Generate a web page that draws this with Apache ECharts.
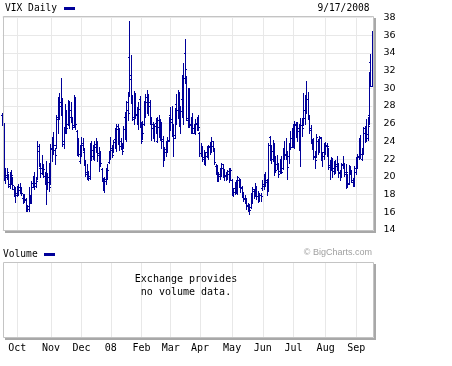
<!DOCTYPE html>
<html><head><meta charset="utf-8">
<script src="https://cdn.jsdelivr.net/npm/echarts@6/dist/echarts.min.js"></script>
<style>html,body{margin:0;padding:0;background:#fff}#c{width:452px;height:366px}</style>
</head><body><div id="c"></div>
<script>
// trading days, one list per month
const months = ['2007-09','2007-10','2007-11','2007-12','2008-01','2008-02','2008-03','2008-04','2008-05','2008-06','2008-07','2008-08','2008-09'];
const monthDays = [
  [17,18,19,20,21,24,25,26,27,28],
  [1,2,3,4,5,8,9,10,11,12,15,16,17,18,19,22,23,24,25,26,29,30,31],
  [1,2,5,6,7,8,9,12,13,14,15,16,19,20,21,23,26,27,28,29,30],
  [3,4,5,6,7,10,11,12,13,14,17,18,19,20,21,24,26,27,28,31],
  [2,3,4,7,8,9,10,11,14,15,16,17,18,22,23,24,25,28,29,30,31],
  [1,4,5,6,7,8,11,12,13,14,15,19,20,21,22,25,26,27,28,29],
  [3,4,5,6,7,10,11,12,13,14,17,18,19,20,24,25,26,27,28,31],
  [1,2,3,4,7,8,9,10,11,14,15,16,17,18,21,22,23,24,25,28,29,30],
  [1,2,5,6,7,8,9,12,13,14,15,16,19,20,21,22,23,27,28,29,30],
  [2,3,4,5,6,9,10,11,12,13,16,17,18,19,20,23,24,25,26,27,30],
  [1,2,3,7,8,9,10,11,14,15,16,17,18,21,22,23,24,25,28,29,30,31],
  [1,4,5,6,7,8,11,12,13,14,15,18,19,20,21,22,25,26,27,28,29],
  [2,3,4,5,8,9,10,11,12,15,16,17]
];
const monthLabels = ['Oct','Nov','Dec','08','Feb','Mar','Apr','May','Jun','Jul','Aug','Sep'];
const yTicks = [14,16,18,20,22,24,26,28,30,32,34,36,38];

const openV = [
 27.0,26.0,20.0,20.2,19.8,19.2,20.3,19.6,18.6,18.6,
 18.2,18.6,18.8,18.6,17.6,17.8,17.4,16.3,16.4,17.8,17.4,19.3,19.4,19.3,20.0,23.5,21.0,21.0,20.6,20.1,19.5,19.0,19.4,
 19.5,23.1,24.1,23.0,23.6,26.8,27.8,28.0,28.5,23.7,25.5,27.0,26.0,27.3,27.5,26.2,25.8,28.5,25.2,23.2,21.8,
 22.9,23.6,22.8,21.6,20.5,20.3,20.1,23.2,23.0,22.4,23.4,24.0,22.5,22.5,20.9,19.6,19.0,19.8,20.5,21.7,
 22.6,23.0,23.0,24.3,23.4,25.7,25.0,24.0,23.3,23.4,26.8,24.5,27.5,33.5,31.5,28.5,26.5,29.0,27.0,26.2,28.8,
 25.6,24.5,26.0,27.8,29.0,28.3,28.4,26.0,25.5,24.8,26.1,24.0,26.4,24.5,26.1,24.3,22.4,23.1,23.3,24.2,
 27.0,26.5,25.5,24.7,28.2,27.5,28.5,25.8,28.8,27.1,34.0,31.0,26.4,29.7,26.0,25.7,25.5,25.4,26.0,25.9,
 25.0,22.7,23.2,22.2,21.5,22.8,22.3,23.5,23.0,24.0,23.0,21.2,20.3,19.8,20.3,20.7,21.0,20.3,20.1,20.1,20.7,20.2,
 19.6,18.0,18.7,19.0,18.4,19.6,19.6,18.7,18.2,17.5,17.4,16.7,16.4,16.6,17.5,18.4,18.2,18.7,17.8,17.9,17.9,
 18.7,19.0,19.8,19.6,18.6,24.5,23.0,22.0,23.5,21.3,21.5,21.0,20.7,21.3,21.0,22.6,22.6,22.0,22.4,23.6,24.4,
 24.5,23.5,25.8,25.3,25.5,23.5,25.8,26.3,26.6,29.0,28.8,26.5,25.3,24.0,24.1,22.2,22.3,24.1,23.4,24.4,22.0,22.8,
 22.8,23.6,23.2,21.3,21.6,21.8,21.0,20.7,21.5,21.2,20.4,20.2,21.5,21.3,20.6,20.0,19.3,20.9,20.4,19.4,19.2,
 21.0,22.0,22.2,24.0,22.0,22.8,25.0,25.7,24.8,27.0,33.0,30.3
];
const highV = [
 27.2,26.1,21.0,21.0,20.3,20.6,20.8,20.0,19.0,18.9,
 19.0,19.2,19.3,18.9,18.1,18.1,17.6,16.8,18.9,18.0,19.5,20.1,20.5,20.0,24.0,23.7,21.4,22.5,21.5,20.5,21.8,20.4,21.6,
 23.7,24.5,25.1,23.3,27.0,29.0,29.5,31.1,28.9,25.6,28.2,27.5,28.7,28.6,28.5,26.8,29.2,29.0,25.3,24.4,23.6,
 24.5,24.4,23.3,21.9,21.5,20.7,23.8,24.0,23.6,24.0,24.4,24.1,23.4,22.9,21.0,19.9,20.0,21.0,21.4,22.9,
 24.5,23.6,24.2,25.5,26.0,26.0,25.5,24.4,23.8,25.7,27.3,28.6,29.6,37.6,33.8,29.2,29.7,29.5,27.9,28.5,29.1,
 26.2,26.3,28.6,29.4,29.8,29.3,28.7,26.7,26.2,26.0,26.6,26.8,27.0,26.5,26.2,24.6,23.4,24.0,24.5,26.8,
 27.9,28.0,26.0,27.8,29.4,29.8,29.6,28.0,31.5,32.9,35.6,31.4,30.0,30.0,26.8,27.2,26.0,26.5,26.7,27.0,
 25.1,23.8,23.5,23.0,22.8,23.5,23.6,23.9,24.5,24.1,23.2,21.4,21.3,20.5,21.0,21.6,21.4,20.9,20.5,20.8,21.0,21.0,
 19.8,18.7,19.4,19.6,20.1,19.9,19.7,19.0,18.3,18.0,17.6,17.1,16.9,18.2,18.8,18.6,19.3,19.0,18.4,18.2,18.2,
 19.6,20.3,20.5,19.7,23.8,24.6,23.6,24.2,23.7,22.4,22.5,21.6,22.0,22.4,23.3,24.0,24.4,22.9,23.8,25.2,25.5,
 26.0,26.3,26.2,26.2,26.0,26.6,26.6,29.5,29.2,30.8,29.6,27.0,25.8,24.3,24.4,22.9,24.8,24.3,24.6,24.5,22.8,23.8,
 23.9,23.8,23.3,21.9,22.2,22.0,21.8,21.9,22.3,21.6,20.8,21.6,22.3,21.6,21.4,20.3,21.3,21.2,20.8,19.9,21.2,
 22.2,22.6,24.4,24.7,23.2,25.6,25.6,26.5,26.7,31.8,33.9,36.5
];
const lowV = [
 25.8,19.6,19.3,19.8,18.9,18.7,19.2,18.6,17.8,17.2,
 17.8,18.0,18.2,17.9,17.0,17.2,16.1,16.1,16.2,17.0,17.2,18.8,18.6,18.9,19.8,21.2,20.0,20.3,20.0,19.2,16.9,18.6,18.4,
 19.2,21.8,22.6,21.5,23.2,25.0,26.5,27.0,23.5,23.3,25.0,24.9,25.8,25.5,26.3,25.4,25.6,25.4,22.5,22.4,21.6,
 22.4,23.0,21.3,20.1,19.8,19.6,19.8,21.9,22.0,21.9,22.8,21.8,20.7,21.2,19.5,18.5,18.3,19.2,19.8,21.6,
 22.0,22.2,22.8,23.3,22.9,23.7,23.0,23.1,22.6,23.2,24.3,24.1,26.4,29.1,28.3,26.4,26.0,26.6,26.0,25.4,25.6,
 23.8,24.3,25.8,26.8,27.2,27.0,26.0,24.2,24.4,24.1,24.9,23.9,24.6,24.2,23.3,21.2,21.9,22.4,22.8,24.0,
 25.3,24.6,22.4,24.4,26.0,26.6,25.7,24.9,26.8,26.0,30.6,26.4,25.6,25.6,25.0,24.9,25.0,24.8,25.3,25.3,
 22.4,22.3,21.8,21.4,21.3,22.2,22.0,22.6,22.8,22.9,21.5,20.3,19.5,19.5,19.8,20.1,20.0,19.6,19.6,19.7,19.4,19.6,
 18.0,17.8,18.1,18.2,18.1,18.9,18.3,17.7,17.3,17.0,16.4,16.1,15.8,16.5,17.0,17.6,18.0,17.5,17.2,17.3,17.3,
 18.5,18.6,19.0,18.0,18.5,21.9,21.6,21.8,20.2,20.5,20.9,20.0,20.4,20.4,20.9,22.0,22.1,19.8,21.6,23.1,23.4,
 23.4,23.3,24.5,24.0,23.0,21.2,24.6,25.8,26.0,27.2,26.5,24.9,23.8,23.1,22.0,21.0,22.2,22.6,22.8,21.9,21.2,22.0,
 22.6,22.3,20.9,19.8,20.8,20.0,20.3,20.4,20.8,20.0,19.6,20.0,21.0,20.1,18.7,18.9,19.2,20.3,19.4,19.0,19.0,
 20.3,21.0,22.0,22.1,21.9,22.6,23.9,24.0,24.2,26.0,30.2,30.2
];
const closeV = [
 26.0,20.4,20.0,20.5,19.0,20.0,20.2,19.1,18.3,18.0,
 18.5,18.5,18.7,18.2,17.5,17.5,16.2,16.7,18.0,17.1,18.8,19.6,19.0,19.5,22.9,21.6,20.4,21.0,20.9,19.3,18.9,20.0,18.8,
 23.2,23.0,23.6,22.5,26.5,27.5,28.5,28.9,24.1,25.1,26.9,25.5,27.5,26.8,26.8,25.6,28.9,26.0,22.9,22.6,22.9,
 23.8,23.2,21.5,20.3,20.6,19.9,23.5,22.4,22.2,23.7,24.1,22.7,22.8,21.6,19.8,18.6,19.5,20.6,20.8,22.5,
 23.2,22.5,23.9,23.8,25.4,24.1,23.5,23.7,22.9,25.4,25.0,28.5,27.2,31.0,29.0,26.7,29.0,27.1,26.3,27.6,26.2,
 24.0,25.0,28.2,28.5,27.8,28.0,26.4,26.0,24.6,25.7,25.0,25.6,25.1,25.7,24.1,22.4,22.8,22.9,24.1,26.5,
 26.2,25.6,24.4,27.5,27.5,29.4,26.4,27.4,27.3,31.2,32.2,26.6,29.8,25.8,25.8,25.0,25.1,26.1,25.7,25.6,
 22.7,23.0,22.0,22.2,22.4,22.4,23.4,22.9,23.5,23.3,21.7,20.5,20.4,20.1,20.6,21.4,20.2,20.2,20.0,20.3,20.5,20.8,
 18.2,18.3,18.6,18.3,20.0,19.3,18.8,18.0,17.6,17.4,16.8,16.5,16.3,17.6,18.6,17.8,18.5,17.8,17.9,17.9,17.8,
 19.2,20.0,19.4,18.4,23.6,22.3,22.9,23.8,21.5,20.8,21.2,20.3,21.5,20.6,22.6,22.5,22.5,21.1,23.7,23.4,23.9,
 23.6,26.0,25.4,25.2,23.3,25.9,25.5,27.5,28.5,28.8,26.9,25.5,24.0,23.9,22.3,21.9,24.5,23.0,24.5,22.1,22.4,22.9,
 23.5,23.5,21.1,21.2,22.1,20.7,20.8,21.2,21.2,20.6,20.0,21.3,21.3,20.3,20.6,19.2,21.0,20.5,19.6,19.4,20.6,
 22.0,22.4,24.0,22.6,22.6,25.5,24.8,24.4,25.7,31.7,30.3,36.2
];

// build categories and month-start lookup
const categories = [];
const monthStart = {};
months.forEach(function (m, mi) {
  monthDays[mi].forEach(function (d, di) {
    if (di === 0 && mi > 0) monthStart[categories.length] = monthLabels[mi - 1];
    categories.push(m + '-' + (d < 10 ? '0' + d : d));
  });
});
const ohlc = categories.map(function (c, i) { return [i, openV[i], highV[i], lowV[i], closeV[i]]; });

const BAR = '#000099';
const GRIDC = '#e8e8e8';
const FRAME = '#c4c4c4';
const SHADOW = '#a8a8a8';
const isMonthStart = function (idx) { return monthStart.hasOwnProperty(idx); };

function renderOHLC(params, api) {
  const i = api.value(0);
  const pH = api.coord([i, api.value(2)]);
  const x = Math.floor(pH[0]);
  const yH = Math.round(pH[1]);
  const yL = Math.round(api.coord([i, api.value(3)])[1]);
  const yO = Math.round(api.coord([i, api.value(1)])[1]);
  const yC = Math.round(api.coord([i, api.value(4)])[1]);
  const st = { fill: BAR };
  return {
    type: 'group',
    children: [
      { type: 'rect', shape: { x: x, y: yH, width: 1, height: Math.max(1, yL - yH + 1) }, style: st },
      { type: 'rect', shape: { x: x - 1, y: yO, width: 1, height: 1 }, style: st },
      { type: 'rect', shape: { x: x + 1, y: yC, width: 1, height: 1 }, style: st }
    ]
  };
}

const chart = echarts.init(document.getElementById('c'), null, { renderer: 'canvas' });
const mono = 'DejaVu Sans Mono';
chart.setOption({
  animation: false,
  backgroundColor: '#fff',
  grid: [
    { left: 2.7, width: 369.7, top: 16, height: 214, show: false },
    { left: 2.7, width: 369.7, top: 262, height: 75, show: false }
  ],
  xAxis: [
    {
      type: 'category', gridIndex: 0, data: categories, boundaryGap: false,
      axisLine: { show: false }, axisTick: { show: false }, axisLabel: { show: false },
      splitLine: { show: true, interval: function (idx) { return isMonthStart(idx); }, lineStyle: { color: GRIDC, width: 1 } }
    },
    {
      type: 'category', gridIndex: 1, data: categories, boundaryGap: false,
      axisLine: { show: false }, axisTick: { show: false },
      axisLabel: {
        show: true, interval: function (idx) { return isMonthStart(idx); },
        formatter: function (v, idx) { return monthStart[idx] || ''; },
        fontFamily: mono, fontSize: 10, color: '#000', margin: 6
      },
      splitLine: { show: true, interval: function (idx) { return isMonthStart(idx); }, lineStyle: { color: GRIDC, width: 1 } }
    }
  ],
  yAxis: [
    {
      type: 'value', gridIndex: 0, position: 'right', min: yTicks[0], max: 38.15, interval: 2,
      axisLine: { show: false }, axisTick: { show: false },
      axisLabel: {
        margin: 11, fontFamily: 'DejaVu Sans', fontSize: 9.5, color: '#000',
        formatter: function (v) { return yTicks.indexOf(Math.round(v * 100) / 100) >= 0 ? String(v) : ''; }
      },
      splitLine: { show: true, lineStyle: { color: GRIDC, width: 1 } }
    },
    { type: 'value', gridIndex: 1, min: 0, max: 1, show: false, splitLine: { show: false } }
  ],
  series: [
    {
      type: 'custom', name: 'VIX', xAxisIndex: 0, yAxisIndex: 0,
      renderItem: renderOHLC, data: ohlc, encode: { x: 0, y: [1, 2, 3, 4] }, clip: false
    },
    { type: 'line', xAxisIndex: 1, yAxisIndex: 1, data: [], silent: true }
  ],
  graphic: [
    // main panel shadow, background, frame
    { type: 'rect', z: -10, silent: true, shape: { x: 5, y: 18, width: 371, height: 215 }, style: { fill: SHADOW } },
    { type: 'rect', z: -9, silent: true, shape: { x: 3, y: 16, width: 371, height: 215 }, style: { fill: '#fff' } },
    { type: 'rect', z: 50, silent: true, shape: { x: 3.5, y: 16.5, width: 370, height: 214 }, style: { fill: 'none', stroke: FRAME, lineWidth: 1 } },
    // volume panel shadow, background, frame
    { type: 'rect', z: -10, silent: true, shape: { x: 5, y: 264, width: 371, height: 76 }, style: { fill: SHADOW } },
    { type: 'rect', z: -9, silent: true, shape: { x: 3, y: 262, width: 371, height: 76 }, style: { fill: '#fff' } },
    { type: 'rect', z: 50, silent: true, shape: { x: 3.5, y: 262.5, width: 370, height: 75 }, style: { fill: 'none', stroke: FRAME, lineWidth: 1 } },
    // titles
    { type: 'text', z: 60, silent: true, style: { text: 'VIX Daily', x: 5, y: 8.5, font: '9.6px "DejaVu Sans Mono"', fill: '#000', textAlign: 'left', textVerticalAlign: 'middle', align: 'left', verticalAlign: 'middle' } },
    { type: 'rect', z: 60, silent: true, shape: { x: 64, y: 7, width: 11, height: 3 }, style: { fill: BAR } },
    { type: 'text', z: 60, silent: true, style: { text: '9/17/2008', x: 369.5, y: 8.5, font: '9.6px "DejaVu Sans Mono"', fill: '#000', textAlign: 'right', textVerticalAlign: 'middle', align: 'right', verticalAlign: 'middle' } },
    { type: 'text', z: 60, silent: true, style: { text: 'Volume', x: 3, y: 254.5, font: '9.6px "DejaVu Sans Mono"', fill: '#000', textAlign: 'left', textVerticalAlign: 'middle', align: 'left', verticalAlign: 'middle' } },
    { type: 'rect', z: 60, silent: true, shape: { x: 44, y: 253, width: 11, height: 3 }, style: { fill: BAR } },
    { type: 'text', z: 60, silent: true, style: { text: '\u00a9 BigCharts.com', x: 372, y: 252.5, font: '9px "Liberation Sans"', fill: '#a0a0a0', textAlign: 'right', textVerticalAlign: 'middle', align: 'right', verticalAlign: 'middle' } },
    { type: 'text', z: 60, silent: true, style: { text: 'Exchange provides', x: 186, y: 279.5, font: '10px "DejaVu Sans Mono"', fill: '#000', textAlign: 'center', textVerticalAlign: 'middle', align: 'center', verticalAlign: 'middle' } },
    { type: 'text', z: 60, silent: true, style: { text: 'no volume data.', x: 186, y: 292, font: '10px "DejaVu Sans Mono"', fill: '#000', textAlign: 'center', textVerticalAlign: 'middle', align: 'center', verticalAlign: 'middle' } }
  ]
});
</script>
</body></html>
